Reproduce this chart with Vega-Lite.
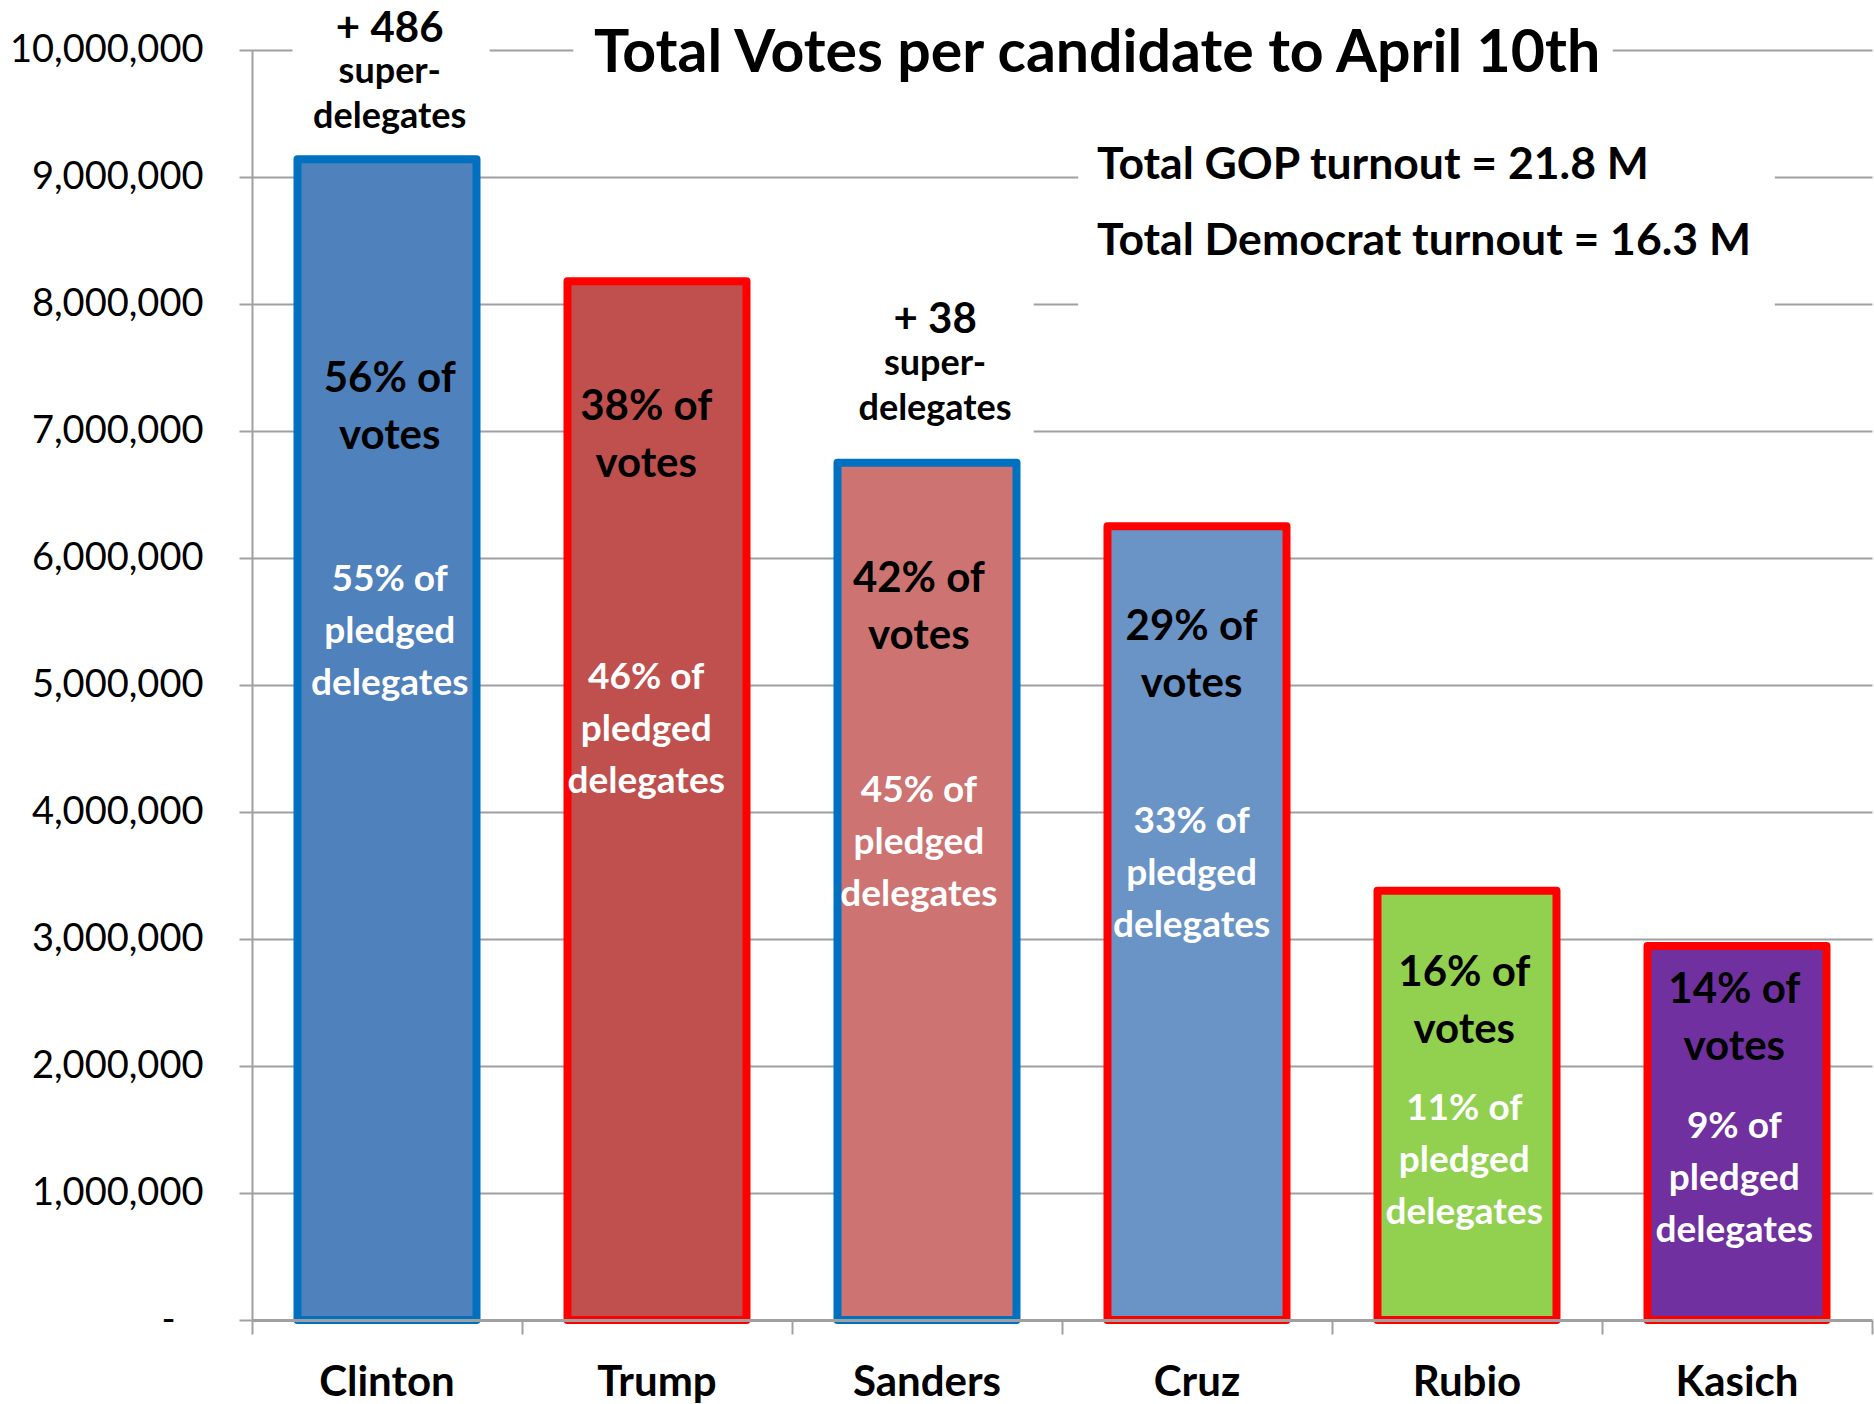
{
  "$schema": "https://vega.github.io/schema/vega-lite/v6.json",
  "autosize": {"type": "none"},
  "padding": {"left": 252, "top": 50, "right": 2, "bottom": 84},
  "width": 1620,
  "height": 1270,
  "background": "white",
  "config": {"view": {"stroke": null}, "font": "Lato"},
  "datasets": {
    "votes": [
      {"candidate": "Clinton", "party": "Democrat", "votes": 9140000},
      {"candidate": "Trump", "party": "Republican", "votes": 8180000},
      {"candidate": "Sanders", "party": "Democrat", "votes": 6750000},
      {"candidate": "Cruz", "party": "Republican", "votes": 6250000},
      {"candidate": "Rubio", "party": "Republican", "votes": 3380000},
      {"candidate": "Kasich", "party": "Republican", "votes": 2945000}
    ],
    "boxes": [
      {"px": 0.15, "px2": 0.88, "v": 9300000, "v2": 10450000},
      {"px": 1.19, "px2": 5.04, "v": 9700000, "v2": 10300000},
      {"px": 1.845, "px2": 2.895, "v": 6900000, "v2": 8100000},
      {"px": 3.06, "px2": 5.64, "v": 7800000, "v2": 9400000}
    ],
    "notes": [
      {"kind": "title", "px": 3.13, "v": 9827000, "label": "Total Votes per candidate to April 10th"},
      {"kind": "turnout", "px": 3.13, "v": 8984000, "label": "Total GOP turnout = 21.8 M"},
      {"kind": "turnout", "px": 3.13, "v": 8386000, "label": "Total Democrat turnout = 16.3 M"},
      {"kind": "superbig", "px": 0.51, "v": 10060000, "label": "+ 486"},
      {"kind": "supersmall", "px": 0.51, "v": 9740000, "label": "super-\ndelegates"},
      {"kind": "superbig", "px": 2.53, "v": 7772000, "label": "+ 38"},
      {"kind": "supersmall", "px": 2.53, "v": 7440000, "label": "super-\ndelegates"},
      {"kind": "votes", "px": 0.51, "v": 7307000, "label": "56% of\nvotes"},
      {"kind": "votes", "px": 1.46, "v": 7087000, "label": "38% of\nvotes"},
      {"kind": "votes", "px": 2.47, "v": 5730000, "label": "42% of\nvotes"},
      {"kind": "votes", "px": 3.48, "v": 5354000, "label": "29% of\nvotes"},
      {"kind": "votes", "px": 4.49, "v": 2630000, "label": "16% of\nvotes"},
      {"kind": "votes", "px": 5.49, "v": 2496000, "label": "14% of\nvotes"},
      {"kind": "pledged", "px": 0.51, "v": 5740000, "label": "55% of\npledged\ndelegates"},
      {"kind": "pledged", "px": 1.46, "v": 4968000, "label": "46% of\npledged\ndelegates"},
      {"kind": "pledged", "px": 2.47, "v": 4080000, "label": "45% of\npledged\ndelegates"},
      {"kind": "pledged", "px": 3.48, "v": 3835000, "label": "33% of\npledged\ndelegates"},
      {"kind": "pledged", "px": 4.49, "v": 1575000, "label": "11% of\npledged\ndelegates"},
      {"kind": "pledged", "px": 5.49, "v": 1433000, "label": "9% of\npledged\ndelegates"}
    ]
  },
  "layer": [
    {
      "data": {"name": "boxes"},
      "mark": {"type": "rect", "fill": "white", "strokeWidth": 0},
      "encoding": {
        "x": {
          "field": "px", "type": "quantitative",
          "scale": {"domain": [0, 6], "nice": false, "zero": false},
          "axis": {
            "orient": "bottom", "title": null, "values": [0, 1, 2, 3, 4, 5, 6],
            "labels": false, "grid": false, "ticks": true, "tickSize": 14,
            "tickColor": "#A0A0A0", "tickWidth": 2,
            "domain": true, "domainColor": "#A0A0A0", "domainWidth": 3, "zindex": 1
          }
        },
        "x2": {"field": "px2"},
        "y": {
          "field": "v", "type": "quantitative",
          "scale": {"domain": [0, 10000000], "nice": false},
          "axis": {
            "title": null,
            "values": [0, 1000000, 2000000, 3000000, 4000000, 5000000, 6000000, 7000000, 8000000, 9000000, 10000000],
            "labelExpr": "datum.value === 0 ? '-\u2800' : format(datum.value, ',')",
            "grid": true, "gridColor": "#A0A0A0", "gridWidth": 2,
            "ticks": true, "tickSize": 13, "tickColor": "#A0A0A0", "tickWidth": 2,
            "domain": true, "domainColor": "#A0A0A0", "domainWidth": 2,
            "labelFont": "Lato", "labelFontSize": 38, "labelColor": "black", "labelPadding": 36,
            "labelLimit": 0
          }
        },
        "y2": {"field": "v2"}
      }
    },
    {
      "data": {"name": "votes"},
      "mark": {"type": "bar", "strokeWidth": 8, "strokeJoin": "round", "opacity": 1},
      "encoding": {
        "x": {
          "field": "candidate", "type": "nominal", "sort": null,
          "scale": {"paddingInner": 0.337, "paddingOuter": 0.1685},
          "axis": {
            "orient": "bottom", "title": null, "domain": false, "ticks": false, "tickSize": 0,
            "grid": false, "labelAngle": 0, "labelFont": "Lato", "labelFontWeight": "bold",
            "labelFontSize": 42, "labelColor": "black", "labelPadding": 42
          }
        },
        "y": {"field": "votes", "type": "quantitative", "scale": {"domain": [0, 10000000], "nice": false}},
        "fill": {
          "field": "candidate", "type": "nominal", "legend": null,
          "scale": {
            "domain": ["Clinton", "Trump", "Sanders", "Cruz", "Rubio", "Kasich"],
            "range": ["#4F81BD", "#C0504D", "#CD7371", "#6A94C6", "#92D050", "#7030A0"]
          }
        },
        "stroke": {
          "field": "party", "type": "nominal", "legend": null,
          "scale": {"domain": ["Democrat", "Republican"], "range": ["#0070C0", "#FF0000"]}
        }
      }
    },
    {
      "data": {"name": "notes"},
      "encoding": {
        "x": {"field": "px", "type": "quantitative", "scale": {"domain": [0, 6], "nice": false, "zero": false}, "axis": null},
        "y": {"field": "v", "type": "quantitative", "scale": {"domain": [0, 10000000], "nice": false}},
        "text": {"field": "label", "type": "nominal"}
      },
      "layer": [
        {
          "transform": [{"filter": "datum.kind === 'title'"}],
          "mark": {"type": "text", "font": "Lato", "fontWeight": "bold", "fontSize": 59, "align": "center", "baseline": "alphabetic", "color": "black"}
        },
        {
          "transform": [{"filter": "datum.kind === 'turnout'"}],
          "mark": {"type": "text", "font": "Lato", "fontWeight": "bold", "fontSize": 44.5, "align": "left", "baseline": "alphabetic", "color": "black"}
        },
        {
          "transform": [{"filter": "datum.kind === 'superbig'"}],
          "mark": {"type": "text", "font": "Lato", "fontWeight": "bold", "fontSize": 42, "align": "center", "baseline": "alphabetic", "color": "black"}
        },
        {
          "transform": [{"filter": "datum.kind === 'supersmall'"}],
          "mark": {"type": "text", "font": "Lato", "fontWeight": "bold", "fontSize": 36, "lineHeight": 45, "lineBreak": "\n", "align": "center", "baseline": "alphabetic", "color": "black"}
        },
        {
          "transform": [{"filter": "datum.kind === 'votes'"}],
          "mark": {"type": "text", "font": "Lato", "fontWeight": "bold", "fontSize": 42, "lineHeight": 57, "lineBreak": "\n", "align": "center", "baseline": "alphabetic", "color": "black"}
        },
        {
          "transform": [{"filter": "datum.kind === 'pledged'"}],
          "mark": {"type": "text", "font": "Lato", "fontWeight": "bold", "fontSize": 37, "lineHeight": 52, "lineBreak": "\n", "align": "center", "baseline": "alphabetic", "color": "white"}
        }
      ]
    }
  ],
  "resolve": {"scale": {"x": "independent"}, "axis": {"x": "independent"}}
}
